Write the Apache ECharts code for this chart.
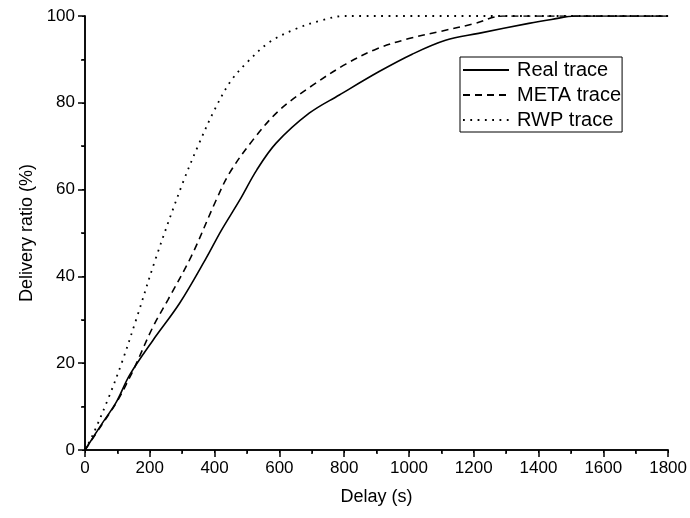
<!DOCTYPE html>
<html>
<head>
<meta charset="utf-8">
<script src="https://cdn.jsdelivr.net/npm/echarts@6/dist/echarts.min.js"></script>
<style>
  html, body { margin: 0; padding: 0; background: #fff; }
  #chart { width: 690px; height: 518px; }
</style>
</head>
<body>
<div id="chart"></div>
<script>
// values (delay in s, delivery ratio in %)
const realX = [0, 50, 97, 138, 210, 292, 374, 420, 477, 530, 590, 692, 785, 908, 1010, 1113, 1215, 1370, 1440, 1513, 1800];
const realY = [0, 5.8, 11.1, 17.3, 25.3, 33.8, 44.2, 50.5, 57.5, 64.5, 70.7, 77.6, 81.8, 87.2, 91.2, 94.4, 96.0, 98.3, 99.2, 100, 100];

const metaX = [0, 50, 100, 140, 159, 210, 256, 328, 405, 446, 518, 600, 702, 805, 900, 1000, 1100, 1200, 1290, 1800];
const metaY = [0, 5.6, 11.3, 17.0, 20.0, 28.4, 34.6, 44.6, 57.6, 63.8, 71.4, 78.3, 84.0, 88.9, 92.4, 94.8, 96.5, 98.2, 100, 100];

const rwpX = [0, 26, 72, 113, 159, 220, 300, 352, 400, 450, 500, 570, 650, 730, 800, 1800];
const rwpY = [0, 3.8, 11.9, 20.0, 30.3, 44.5, 61.2, 70.6, 78.4, 85.0, 89.3, 94.0, 97.0, 99.0, 100, 100];

const pairs = (xs, ys) => xs.map((x, i) => [x, ys[i]]);

const chart = echarts.init(document.getElementById('chart'));
const font = 'Liberation Sans, Arial, sans-serif';

const lineSeries = (name, xs, ys, type, w) => ({
  name: name,
  type: 'line',
  data: pairs(xs, ys),
  smooth: 0.35,
  symbol: 'none',
  lineStyle: { color: '#000', width: w, type: type },
  itemStyle: { color: '#000' }
});

chart.setOption({
  animation: false,
  grid: { left: 85, right: 20, top: 16, bottom: 68 },
  legend: {
    left: 460, top: 57,
    orient: 'vertical',
    itemWidth: 46, itemHeight: 10, itemGap: 5,
    padding: [3, 1, 2, 2],
    borderColor: '#000', borderWidth: 1, borderRadius: 0,
    itemStyle: { opacity: 0 },
    textStyle: { fontFamily: font, fontSize: 20, color: '#000', padding: [0, 0, 0, 3] },
    data: ['Real trace', 'META trace', 'RWP trace']
  },
  xAxis: [{
    type: 'value', min: 0, max: 1800, interval: 200,
    name: 'Delay (s)', nameLocation: 'middle', nameGap: 38,
    nameTextStyle: { fontFamily: font, fontSize: 18, color: '#000' },
    axisLine: { show: true, lineStyle: { color: '#000', width: 1.5 } },
    axisTick: { show: true, length: 7, lineStyle: { color: '#000', width: 1.5 } },
    minorTick: { show: true, splitNumber: 2, length: 4, lineStyle: { color: '#000', width: 1.5 } },
    axisLabel: { fontFamily: font, fontSize: 17, color: '#000', margin: 10, formatter: v => String(v) },
    splitLine: { show: false }
  }, {
    type: 'value', position: 'top', min: 0, max: 1800, interval: 100,
    axisLine: { show: true, lineStyle: { color: '#000', width: 1.5 } },
    axisTick: { show: true, inside: true, length: 3, lineStyle: { color: '#000', width: 1 } },
    axisLabel: { show: false },
    splitLine: { show: false }
  }],
  yAxis: [{
    type: 'value', min: 0, max: 100, interval: 20,
    name: 'Delivery ratio (%)', nameLocation: 'middle', nameGap: 48,
    nameTextStyle: { fontFamily: font, fontSize: 18, color: '#000' },
    axisLine: { show: true, lineStyle: { color: '#000', width: 1.5 } },
    axisTick: { show: true, length: 7, lineStyle: { color: '#000', width: 1.5 } },
    minorTick: { show: true, splitNumber: 2, length: 4, lineStyle: { color: '#000', width: 1.5 } },
    axisLabel: { fontFamily: font, fontSize: 17, color: '#000', margin: 10 },
    splitLine: { show: false }
  }, {
    type: 'value', position: 'right', min: 0, max: 100, interval: 10,
    axisLine: { show: true, lineStyle: { color: '#000', width: 1.5 } },
    axisTick: { show: true, inside: true, length: 3, lineStyle: { color: '#000', width: 1 } },
    axisLabel: { show: false },
    splitLine: { show: false }
  }],
  series: [
    lineSeries('Real trace', realX, realY, 'solid', 1.6),
    lineSeries('META trace', metaX, metaY, [7, 5], 1.6),
    lineSeries('RWP trace', rwpX, rwpY, [1.8, 5.5], 1.8)
  ]
});
</script>
</body>
</html>
